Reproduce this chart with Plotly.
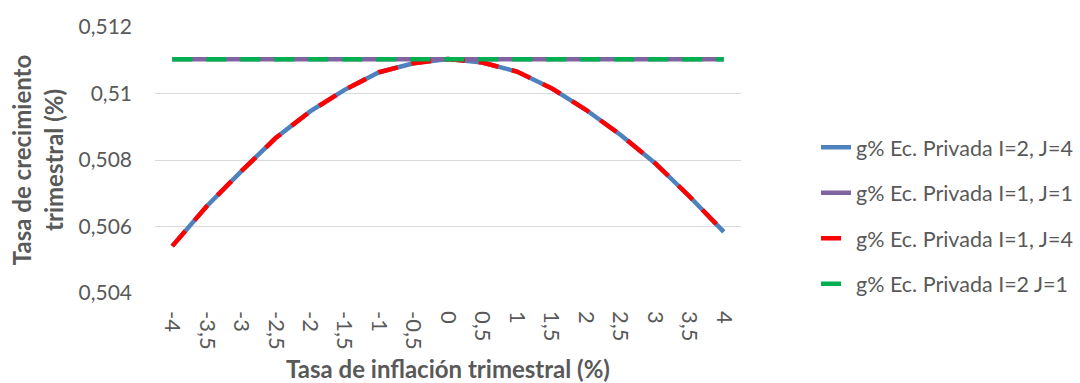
import plotly.graph_objects as go

categories = ["-4", "-3,5", "-3", "-2,5", "-2", "-1,5", "-1", "-0,5", "0",
              "0,5", "1", "1,5", "2", "2,5", "3", "3,5", "4"]
curve_i2_j4 = [0.50541, 0.50661, 0.50766, 0.50866, 0.50946, 0.51011, 0.51064, 0.51091,
               0.51104, 0.51093, 0.51066, 0.51016, 0.50951, 0.50876, 0.50791, 0.50691, 0.50584]
flat_i1_j1 = [0.51103] * 17
curve_i1_j4 = [0.50541, 0.50661, 0.50766, 0.50866, 0.50946, 0.51011, 0.51064, 0.51091,
               0.51104, 0.51093, 0.51066, 0.51016, 0.50951, 0.50876, 0.50791, 0.50691, 0.50584]
flat_i2_j1 = [0.51103] * 17
y_ticks = [0.504, 0.506, 0.508, 0.510, 0.512]
y_ticklabels = ["0,504", "0,506", "0,508", "0,51", "0,512"]

FONT = "Lato"
GREY = "#595959"

fig = go.Figure()
fig.add_trace(go.Scatter(x=categories, y=curve_i2_j4, mode="lines", name="g% Ec. Privada I=2, J=4",
                         line=dict(color="#4F81BD", width=4.5), legendgroup="a"))
fig.add_trace(go.Scatter(x=categories, y=flat_i1_j1, mode="lines", name="g% Ec. Privada I=1, J=1",
                         line=dict(color="#8064A2", width=4.5), legendgroup="b"))
fig.add_trace(go.Scatter(x=categories, y=curve_i1_j4, mode="lines", name="g% Ec. Privada I=1, J=4",
                         line=dict(color="#FF0000", width=4.5, dash="20px,14px"), legendgroup="c"))
fig.add_trace(go.Scatter(x=categories, y=flat_i2_j1, mode="lines", name="g% Ec. Privada I=2 J=1",
                         line=dict(color="#00B050", width=4.5, dash="20px,14px"), legendgroup="d"))

fig.update_layout(
    width=1080, height=383,
    margin=dict(l=155, r=339, t=27, b=90, autoexpand=False),
    paper_bgcolor="white", plot_bgcolor="white",
    font=dict(family=FONT, color=GREY, size=20),
    showlegend=True,
    legend=dict(x=1.128, xanchor="left", y=0.29, yanchor="middle",
                font=dict(family=FONT, size=21.5, color=GREY),
                tracegroupgap=14.5, bgcolor="rgba(0,0,0,0)"),
    xaxis=dict(type="category", range=[-0.5, 16.5], tickangle=90, automargin=False,
               showgrid=False, showline=False, ticks="", zeroline=False,
               ticklabelstandoff=17,
               tickfont=dict(family=FONT, size=22, color=GREY),
               title=dict(text="<b>Tasa de inflación trimestral (%)</b>",
                          font=dict(family=FONT, size=24, color=GREY), standoff=12)),
    yaxis=dict(range=[0.504, 0.512], tickvals=y_ticks, ticktext=y_ticklabels, automargin=False,
               showgrid=True, gridcolor="#D9D9D9", gridwidth=1, zeroline=False,
               showline=False, ticks="", ticklabelstandoff=22,
               tickfont=dict(family=FONT, size=21, color=GREY),
               title=dict(text="<b>Tasa de crecimiento<br>trimestral (%)</b>",
                          font=dict(family=FONT, size=24, color=GREY), standoff=8)),
)

fig.write_html("out.html")
